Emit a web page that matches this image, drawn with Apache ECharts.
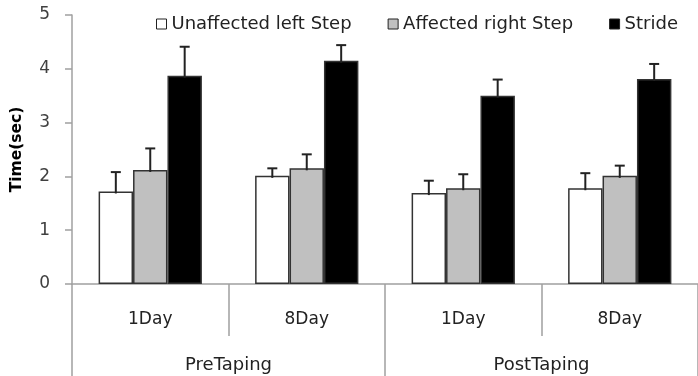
<!DOCTYPE html>
<html>
<head>
<meta charset="utf-8">
<script src="https://cdn.jsdelivr.net/npm/echarts@6/dist/echarts.min.js"></script>
<style>html,body{margin:0;padding:0;background:#fff}#c{width:698px;height:376px}</style>
</head>
<body>
<div id="c"></div>
<script>
var days = ['1Day', '8Day', '1Day', '8Day'];
var phases = ['PreTaping', 'PostTaping'];
var seriesNames = ['Unaffected left Step', 'Affected right Step', 'Stride'];
var unaffected = [1.72, 2.01, 1.69, 1.78];
var affected = [2.12, 2.15, 1.78, 2.01];
var stride = [3.87, 4.15, 3.50, 3.81];
var unaffectedErr = [0.36, 0.14, 0.23, 0.28];
var affectedErr = [0.40, 0.26, 0.26, 0.19];
var strideErr = [0.54, 0.29, 0.30, 0.28];
var yTicks = [0, 1, 2, 3, 4, 5];

var values = [unaffected, affected, stride];
var errs = [unaffectedErr, affectedErr, strideErr];
var colors = ['#ffffff', '#c0c0c0', '#000000'];
var FONT = 'DejaVu Sans';
var GAP = 0.34;

var chart = echarts.init(document.getElementById('c'), null, {renderer: 'canvas'});

var series = [];
values.forEach(function (vals, i) {
  series.push({
    name: seriesNames[i],
    type: 'bar',
    xAxisIndex: 0,
    data: vals,
    barGap: '0%',
    barCategoryGap: (GAP * 100) + '%',
    itemStyle: {color: colors[i], borderColor: '#333', borderWidth: 1.5},
    emphasis: {disabled: true},
    animation: false
  });
});
values.forEach(function (vals, i) {
  var d = vals.map(function (v, k) { return [k, v, v + errs[i][k]]; });
  series.push({
    type: 'custom',
    xAxisIndex: 0,
    data: d,
    z: 10,
    animation: false,
    silent: true,
    renderItem: function (params, api) {
      var k = api.value(0);
      var bw = api.size([1, 0])[0];
      var barW = bw * (1 - GAP) / 3;
      var off = (i - 1) * barW;
      var p0 = api.coord([k, api.value(1)]);
      var p1 = api.coord([k, api.value(2)]);
      var x = p0[0] + off;
      var style = {stroke: '#222', lineWidth: 2};
      return {
        type: 'group',
        children: [
          {type: 'line', shape: {x1: x, y1: p0[1] + 2, x2: x, y2: p1[1]}, style: style},
          {type: 'line', shape: {x1: x - 5, y1: p1[1], x2: x + 5, y2: p1[1]}, style: style}
        ]
      };
    }
  });
});

chart.setOption({
  animation: false,
  textStyle: {fontFamily: FONT},
  legend: {
    left: 151, top: 10,
    icon: 'rect', itemWidth: 10, itemHeight: 10, itemGap: 36, itemTextGap: 4,
    textStyle: {fontFamily: FONT, fontSize: 18, color: '#222'},
    data: seriesNames.map(function (n, i) {
      return {name: n, itemStyle: {color: colors[i], borderColor: '#222', borderWidth: 1}};
    })
  },
  grid: {left: 72, right: -11, top: 15, bottom: 92, containLabel: false},
  xAxis: [
    {
      type: 'category', data: days, position: 'bottom',
      axisLine: {show: true, lineStyle: {color: '#a0a0a0', width: 1.5}},
      axisTick: {show: true, interval: 0, length: 52, lineStyle: {color: '#a0a0a0', width: 1.5}},
      axisLabel: {margin: 27, fontSize: 17, color: '#222', fontFamily: FONT}
    },
    {
      type: 'category', data: phases, position: 'bottom',
      axisLine: {show: false},
      axisTick: {show: true, interval: 0, length: 95, lineStyle: {color: '#a0a0a0', width: 1.5}},
      axisLabel: {margin: 72, fontSize: 18, color: '#222', fontFamily: FONT}
    }
  ],
  yAxis: {
    type: 'value', min: 0, max: 5, interval: 1,
    name: 'Time(sec)', nameLocation: 'middle', nameGap: 47,
    nameTextStyle: {fontFamily: FONT, fontSize: 15.5, fontWeight: 'bold', color: '#000'},
    axisLine: {show: true, lineStyle: {color: '#a0a0a0', width: 1.5}},
    axisTick: {show: true, length: 7, lineStyle: {color: '#a0a0a0', width: 1.5}},
    splitLine: {show: false},
    axisLabel: {margin: 22, fontSize: 17, color: '#404040', fontFamily: FONT,
      formatter: function (v) { return yTicks.indexOf(v) >= 0 ? String(v) : ''; }}
  },
  series: series
});
</script>
</body>
</html>
